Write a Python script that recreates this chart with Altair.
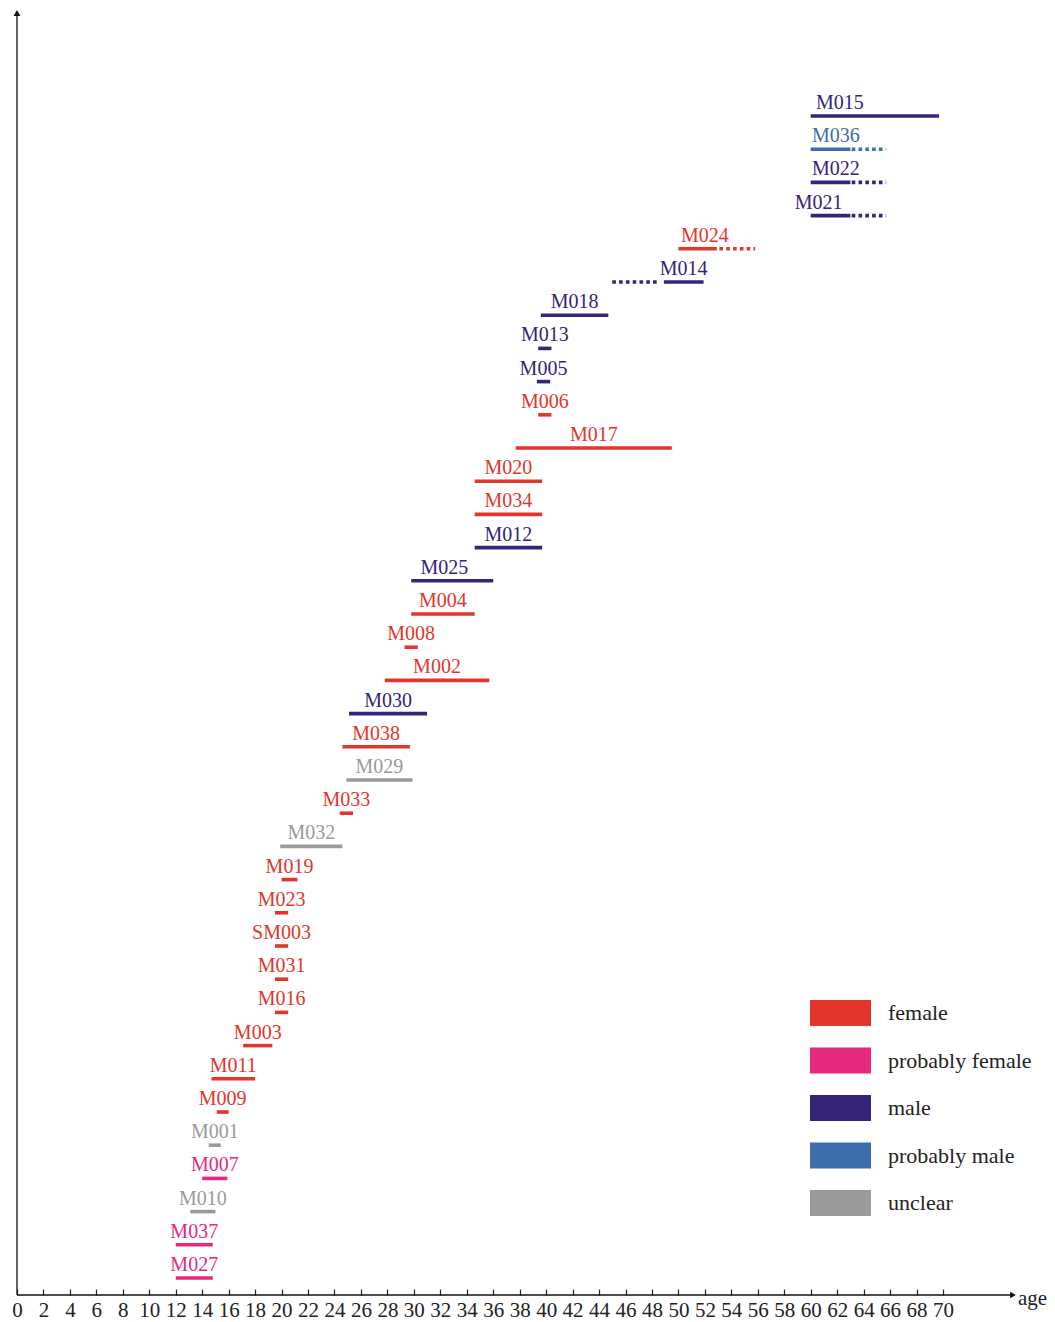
import altair as alt
import pandas as pd

# ---- data (bottom row first) ----
ids = ["M027", "M037", "M010", "M007", "M001", "M009", "M011", "M003", "M016", "M031",
       "SM003", "M023", "M019", "M032", "M033", "M029", "M038", "M030", "M002", "M008",
       "M004", "M025", "M012", "M034", "M020", "M017", "M006", "M005", "M013", "M018",
       "M014", "M024", "M021", "M022", "M036", "M015"]
sex = ["probably female", "probably female", "unclear", "probably female", "unclear",
       "female", "female", "female", "female", "female",
       "female", "female", "female", "unclear", "female", "unclear", "female", "male", "female", "female",
       "female", "male", "male", "female", "female", "female", "female", "male", "male", "male",
       "male", "female", "male", "male", "probably male", "male"]
start = [12.0, 12.0, 13.1, 14.0, 14.5, 15.1, 14.7, 17.1, 19.5, 19.5,
         19.5, 19.5, 20.0, 19.9, 24.4, 24.9, 24.6, 25.1, 27.8, 29.3,
         29.8, 29.8, 34.6, 34.6, 34.6, 37.7, 39.4, 39.3, 39.4, 39.6,
         48.9, 50.0, 60.0, 60.0, 60.0, 60.0]
end = [14.8, 14.8, 15.0, 15.9, 15.4, 16.0, 18.0, 19.3, 20.5, 20.5,
       20.5, 20.5, 21.2, 24.6, 25.4, 29.9, 29.7, 31.0, 35.7, 30.3,
       34.6, 36.0, 39.7, 39.7, 39.7, 49.5, 40.4, 40.3, 40.4, 44.7,
       51.9, 52.9, 63.0, 63.0, 63.0, 69.7]

# uncertain (dotted) extensions
dot_ids = ["M014", "M024", "M021", "M022", "M036"]
dot_start = [45.0, 53.1, 63.1, 63.1, 63.1]
dot_end = [48.4, 55.8, 65.7, 65.7, 65.7]

# label positions that are not centred on the solid bar
label_age = {"M015": 62.2, "M036": 61.9, "M022": 61.9, "M021": 60.6, "M024": 52.0, "M025": 32.3}

categories = ["female", "probably female", "male", "probably male", "unclear"]
colors = ["#e3352c", "#e6297f", "#35247a", "#3d6dab", "#9a9a9a"]

tick_values = list(range(0, 71, 2))

# ---- tables ----
rank = list(range(len(ids)))
bars = pd.DataFrame({"id": ids, "sex": sex, "start": start, "end": end, "rank": rank})
bars["label_x"] = [label_age.get(i, (s + e) / 2) for i, s, e in zip(ids, start, end)]
lookup = dict(zip(ids, zip(sex, rank)))
dots = pd.DataFrame({
    "id": dot_ids, "start": dot_start, "end": dot_end,
    "sex": [lookup[i][0] for i in dot_ids], "rank": [lookup[i][1] for i in dot_ids],
})
legend_df = pd.DataFrame({"cat": categories})

SERIF = "Liberation Serif"
W, H = 1039, 1287

xscale = alt.Scale(domain=[0, 70], range=[9, 935], nice=False, zero=False)
yscale = alt.Scale(domain=[0, 35], range=[1270, 108], nice=False, zero=False)
cscale = alt.Scale(domain=categories, range=colors)
xaxis = alt.Axis(values=tick_values, domain=False, grid=False, tickSize=6, offset=-6,
                 tickColor="#222", tickWidth=1.2, labelFont=SERIF, labelFontSize=21,
                 labelColor="#222", labelPadding=4, labelFlush=False, labelOverlap=False,
                 labelAngle=0, title=None)

solid = alt.Chart(bars).mark_rule(strokeWidth=3.6, strokeCap="butt").encode(
    x=alt.X("start:Q", scale=xscale, axis=xaxis),
    x2="end:Q",
    y=alt.Y("rank:Q", scale=yscale, axis=None),
    color=alt.Color("sex:N", scale=cscale, legend=None),
)

dotted = alt.Chart(dots).mark_rule(strokeWidth=3.6, strokeDash=[3.6, 3.2], strokeCap="butt").encode(
    x=alt.X("start:Q", scale=xscale, axis=xaxis),
    x2="end:Q",
    y=alt.Y("rank:Q", scale=yscale, axis=None),
    color=alt.Color("sex:N", scale=cscale, legend=None),
)

labels = alt.Chart(bars).mark_text(font=SERIF, fontSize=20, baseline="alphabetic", dy=-7,
                                   align="center").encode(
    x=alt.X("label_x:Q", scale=xscale, axis=xaxis),
    y=alt.Y("rank:Q", scale=yscale, axis=None),
    text="id:N",
    color=alt.Color("sex:N", scale=cscale, legend=None),
)

# legend drawn from the same colour scale
lscale = alt.Scale(type="point", domain=categories, range=[1005, 1195], padding=0)
leg_sw = alt.Chart(legend_df).mark_rule(strokeWidth=26, strokeCap="butt").encode(
    x=alt.value(802), x2=alt.value(863),
    y=alt.Y("cat:N", scale=lscale, axis=None, sort=categories),
    color=alt.Color("cat:N", scale=cscale, legend=None),
)
leg_tx = alt.Chart(legend_df).mark_text(font=SERIF, fontSize=22, align="left", baseline="middle",
                                        color="#222").encode(
    x=alt.value(880),
    y=alt.Y("cat:N", scale=lscale, axis=None, sort=categories),
    text="cat:N",
)

one = pd.DataFrame({"a": [0]})
xline = alt.Chart(one).mark_rule(color="#111", strokeWidth=1.3).encode(
    x=alt.value(9), x2=alt.value(1006), y=alt.value(H))
yline = alt.Chart(one).mark_rule(color="#111", strokeWidth=1.3).encode(
    x=alt.value(9), y=alt.value(4), y2=alt.value(H))
xarrow = alt.Chart(one).mark_point(shape="triangle-right", filled=True, size=45, color="#111",
                                   opacity=1).encode(x=alt.value(1005), y=alt.value(H))
yarrow = alt.Chart(one).mark_point(shape="triangle-up", filled=True, size=45, color="#111",
                                   opacity=1).encode(x=alt.value(9), y=alt.value(5))
agetext = alt.Chart(one).mark_text(text="age", font=SERIF, fontSize=21, align="left",
                                   baseline="middle", color="#222").encode(
    x=alt.value(1010), y=alt.value(H + 4))

chart = alt.layer(
    solid, dotted, labels, leg_sw, leg_tx, xline, yline, xarrow, yarrow, agetext
).resolve_scale(y="independent").properties(
    width=W, height=H,
    autosize=alt.AutoSizeParams(type="none"),
    padding={"left": 0, "top": 0, "right": 0, "bottom": 27},
    background="white",
).configure_view(stroke=None)

chart.save("out.html", embed_options={"renderer": "svg", "actions": False})
